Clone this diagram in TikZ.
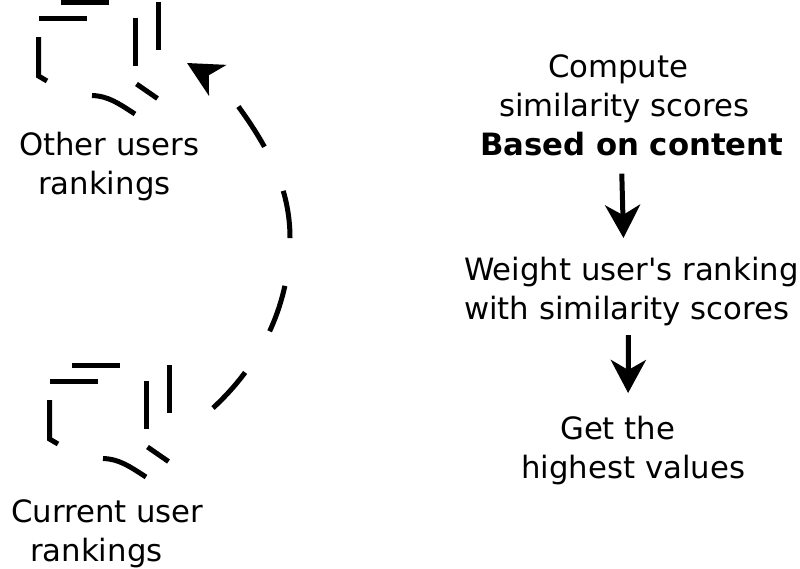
\documentclass[tikz,border=0pt]{standalone}
\usepackage{fontspec}
\setmainfont{DejaVu Sans}
\usetikzlibrary{arrows.meta,positioning,calc}
\begin{document}
\begin{tikzpicture}[x=1pt,y=-1pt,
   every node/.style={font=\fontsize{30.75}{39}\selectfont,align=left,inner sep=0pt,anchor=north west},
   flow/.style={-{Stealth[length=33pt,width=35pt,inset=10pt]},line width=5pt},
   back/.style={-{Stealth[length=35pt,width=35pt,inset=10pt]},line width=5pt,dash pattern=on 48pt off 48pt},
   stroke/.style={line width=5pt},
   pics/ranking/.style={code={
     \draw[stroke] (61,2) -- (109,2);
     \draw[stroke] (39,18) -- (87,18);
     \draw[stroke] (38.5,37) -- (38.5,76) -- (47,81);
     \draw[stroke] (135,18) -- (135,66);
     \draw[stroke] (158,2) -- (158,50);
     \draw[stroke] (136.5,84) -- (157.5,98.5);
     \draw[stroke] (92,95.5) .. controls (108,96) and (118,103) .. (135,114);
   }}]
  \useasboundingbox (0,0) rectangle (800,568);
  \pic at (0,0) {ranking};
  \pic at (11,363) {ranking};
  \node (others) at (19,132) {Other users\\\hspace*{19pt}rankings};
  \node (current) at (11,499) {Current user\\\hspace*{19pt}rankings};
  \node (compute) at (480,54) {\hspace*{68pt}Compute\\\hspace*{19pt}similarity scores\\\textbf{Based on content}};
  \node (weight) at (464,257) {Weight user\textquotesingle s ranking\\with similarity scores};
  \node (values) at (521,416) {\hspace*{39pt}Get the\\highest values};
  \coordinate (backstart) at (213,408);
  \coordinate (backmid) at (290,238);
  \coordinate (backbend) at (238,106);
  \coordinate (backend) at (187,63);
  \draw[back] (backstart) .. controls (265,360) and (290,300) .. (backmid)
     .. controls (290,190) and (270,150) .. (backbend)
     .. controls (222,85) and (210,76) .. (backend);
  \draw[flow] ([xshift=-10pt,yshift=-18pt]compute.south) -- ([xshift=-8pt,yshift=19pt]weight.north);
  \draw[flow] ([xshift=-3pt,yshift=-9pt]weight.south) -- ([xshift=-5pt,yshift=23pt]values.north);
\end{tikzpicture}
\end{document}
